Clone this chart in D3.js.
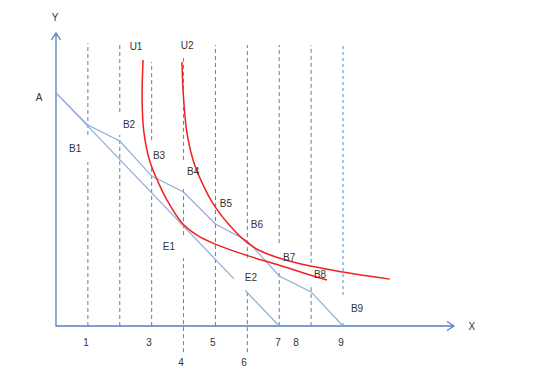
<!DOCTYPE html>
<html>
<head>
<meta charset="utf-8">
<script src="https://cdn.jsdelivr.net/npm/d3@7"></script>
<style>
    body { margin: 0; background: #fff; }
    svg { display: block; }
    .lbl { font-family: "Liberation Sans", Arial, sans-serif; font-size: 10px; fill: #333; }
</style>
</head>
<body>
<svg id="chart" width="560" height="385"></svg>
<script>
//Kinked budget line, one point per integer x.
var kinkX = [0, 1, 2, 3, 4, 5, 6, 7, 8, 9];
var kinkY = [7.31, 6.30, 5.80, 4.70, 4.20, 3.20, 2.67, 1.57, 1.07, 0];

//Straight budget line A to 7, drawn in two pieces (broken under E2).
var straightParts = [
    [[0, 7.31], [5.58, 1.48]],
    [[5.93, 1.12], [7, 0]]
];

//Indifference curves.
var u1X = [2.73, 2.70, 2.76, 2.95, 3.20, 3.48, 3.95, 4.42, 4.92, 5.93, 7.02, 7.96, 8.50];
var u1Y = [8.34, 7.09, 6.05, 5.14, 4.52, 3.95, 3.23, 2.85, 2.60, 2.23, 1.90, 1.60, 1.44];
var u2X = [3.95, 3.99, 4.10, 4.30, 4.60, 4.95, 5.45, 5.93, 6.40, 7.34, 9.00, 10.47];
var u2Y = [8.28, 7.30, 6.10, 5.20, 4.45, 3.80, 3.15, 2.67, 2.36, 2.03, 1.69, 1.47];

//Dashed verticals at each x, as [from, to] pieces.
var guideX = [1, 2, 3, 4, 5, 6, 7, 8, 9];
var guidePieces = [
    [[0, 5.14], [5.99, 8.87]],
    [[0, 5.99], [6.71, 8.81]],
    [[0, 4.99], [5.83, 8.28]],
    [[-0.82, 2.13], [2.85, 4.33], [5.21, 8.40]],
    [[0, 8.81]],
    [[-0.82, 1.13], [2.13, 8.81]],
    [[0, 1.76], [2.60, 8.81]],
    [[0, 1.22], [1.98, 8.81]],
    [[0, 0.19], [0.97, 8.81]]
];

//Tick labels under the x axis.
var tickText = ["1", "3", "4", "5", "6", "7", "8", "9"];
var tickX = [0.94, 2.92, 3.92, 4.92, 5.90, 6.96, 7.53, 8.94];
var tickY = [-0.53, -0.53, -1.16, -0.53, -1.16, -0.53, -0.53, -0.53];

//Point labels.
var noteText = ["Y", "X", "A", "U1", "U2", "B1", "B2", "B3", "B4", "B5", "B6", "B7", "B8", "B9", "E1", "E2"];
var noteX = [-0.03, 13.04, -0.53, 2.51, 4.11, 0.60, 2.29, 3.23, 4.30, 5.33, 6.30, 7.31, 8.28, 9.44, 3.54, 6.11];
var noteY = [9.66, -0.03, 7.15, 8.75, 8.81, 5.58, 6.33, 5.36, 4.83, 3.83, 3.17, 2.16, 1.60, 0.56, 2.48, 1.51];

var svg = d3.select("#chart");

var x = d3.scaleLinear().domain([0, 9]).range([56, 343]);
var y = d3.scaleLinear().domain([0, 9]).range([326, 39]);

var line = d3.line()
    .x(function (d) { return x(d[0]); })
    .y(function (d) { return y(d[1]); });

//Dashed guides.
guideX.forEach(function (gx, i) {
    var light = gx === 9;
    guidePieces[i].forEach(function (p) {
        svg.append("line")
            .attr("x1", x(gx)).attr("x2", x(gx))
            .attr("y1", y(p[0])).attr("y2", y(p[1]))
            .attr("stroke", light ? "#a9c3e6" : "#5580b8")
            .attr("stroke-width", light ? 2 : 1)
            .attr("stroke-dasharray", light ? "3,3" : "4,3");
    });
});

//Axes with open arrow heads.
var axisColor = "#4f81bd";
svg.append("path")
    .attr("d", line([[0, 9.19], [0, 0], [12.48, 0]]))
    .attr("fill", "none").attr("stroke", axisColor).attr("stroke-width", 1.3);
svg.append("path")
    .attr("d", "M" + (x(0) - 4.5) + "," + (y(9.19) + 7) + "L" + x(0) + "," + y(9.19) + "L" + (x(0) + 4.5) + "," + (y(9.19) + 7))
    .attr("fill", "none").attr("stroke", axisColor).attr("stroke-width", 1.2);
svg.append("path")
    .attr("d", "M" + (x(12.48) - 7) + "," + (y(0) - 4.5) + "L" + x(12.48) + "," + y(0) + "L" + (x(12.48) - 7) + "," + (y(0) + 4.5))
    .attr("fill", "none").attr("stroke", axisColor).attr("stroke-width", 1.2);

//Budget lines.
var blue = "#8fadd9";
straightParts.forEach(function (p) {
    svg.append("path")
        .attr("d", line(p))
        .attr("fill", "none").attr("stroke", blue).attr("stroke-width", 1.2);
});
svg.append("path")
    .attr("d", line(d3.zip(kinkX, kinkY)))
    .attr("fill", "none").attr("stroke", blue).attr("stroke-width", 1.2);

//Indifference curves.
var curve = d3.line()
    .x(function (d) { return x(d[0]); })
    .y(function (d) { return y(d[1]); })
    .curve(d3.curveCatmullRom.alpha(0.5));

[[u1X, u1Y], [u2X, u2Y]].forEach(function (u) {
    svg.append("path")
        .attr("d", curve(d3.zip(u[0], u[1])))
        .attr("fill", "none").attr("stroke", "#f22020").attr("stroke-width", 1.5);
});

//Text.
tickText.forEach(function (t, i) {
    svg.append("text").attr("class", "lbl")
        .attr("x", x(tickX[i])).attr("y", y(tickY[i]))
        .attr("text-anchor", "middle").attr("dominant-baseline", "central")
        .text(t);
});
noteText.forEach(function (t, i) {
    svg.append("text").attr("class", "lbl")
        .attr("x", x(noteX[i])).attr("y", y(noteY[i]))
        .attr("text-anchor", "middle").attr("dominant-baseline", "central")
        .text(t);
});
</script>
</body>
</html>
